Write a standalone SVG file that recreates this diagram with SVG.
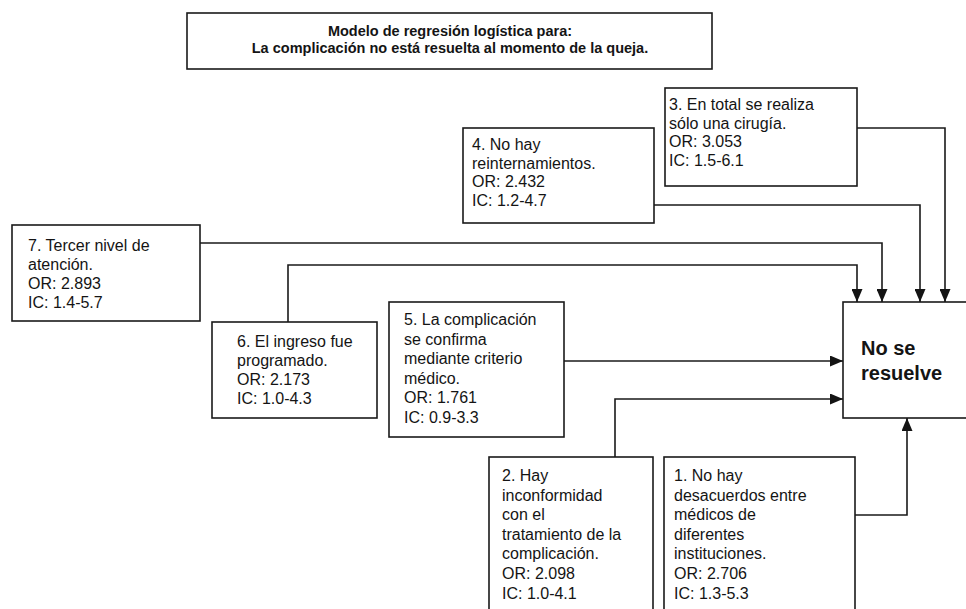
<svg xmlns="http://www.w3.org/2000/svg" width="966" height="609" viewBox="0 0 966 609">
  <style>
    .box { fill: #ffffff; stroke: #1a1a1a; stroke-width: 1.6; }
    .t { font-family: "Liberation Sans", Arial, sans-serif; font-size: 16px; fill: #141414; }
    .title { font-family: "Liberation Sans", Arial, sans-serif; font-size: 14.5px; font-weight: bold; fill: #141414; }
    .big { font-family: "Liberation Sans", Arial, sans-serif; font-size: 20px; font-weight: bold; fill: #141414; }
    .link { fill: none; stroke: #1a1a1a; stroke-width: 1.6; }
  </style>
  <defs>
    <marker id="arrow" markerUnits="userSpaceOnUse" markerWidth="13" markerHeight="11" refX="13" refY="5.5" orient="auto">
      <path d="M0,0 L13,5.5 L0,11 z" fill="#141414"/>
    </marker>
  </defs>
  <rect width="966" height="609" fill="#ffffff"/>

  <!-- heading -->
  <g id="title">
    <rect class="box" x="187" y="13" width="525" height="56"/>
    <text class="title" x="450" y="36" text-anchor="middle">Modelo de regresión logística para:</text>
    <text class="title" x="450" y="53" text-anchor="middle">La complicación no está resuelta al momento de la queja.</text>
  </g>

  <!-- connectors -->
  <g id="connectors">
    <polyline class="link" points="857,128 945,128 945,302" marker-end="url(#arrow)"/>
    <polyline class="link" points="654,205 920,205 920,302" marker-end="url(#arrow)"/>
    <polyline class="link" points="200,243 882,243 882,302" marker-end="url(#arrow)"/>
    <polyline class="link" points="288,322 288,265 857,265 857,302" marker-end="url(#arrow)"/>
    <polyline class="link" points="564,361 843,361" marker-end="url(#arrow)"/>
    <polyline class="link" points="615,457 615,399 843,399" marker-end="url(#arrow)"/>
    <polyline class="link" points="855,515 907,515 907,418" marker-end="url(#arrow)"/>
  </g>

  <!-- outcome -->
  <g id="outcome">
    <rect class="box" x="843" y="302" width="135" height="116"/>
    <text class="big" x="861" y="355">No se</text>
    <text class="big" x="861" y="380">resuelve</text>
  </g>

  <g id="factor3">
    <rect class="box" x="665" y="88" width="192" height="98"/>
    <text class="t" x="669" y="110">3. En total se realiza</text>
    <text class="t" x="669" y="128.5">sólo una cirugía.</text>
    <text class="t" x="669" y="147">OR: 3.053</text>
    <text class="t" x="669" y="165.5">IC: 1.5-6.1</text>
  </g>

  <g id="factor4">
    <rect class="box" x="463" y="128" width="191" height="95"/>
    <text class="t" x="472" y="150">4. No hay</text>
    <text class="t" x="472" y="168.5">reinternamientos.</text>
    <text class="t" x="472" y="187">OR: 2.432</text>
    <text class="t" x="472" y="205.5">IC: 1.2-4.7</text>
  </g>

  <g id="factor7">
    <rect class="box" x="12" y="225" width="188" height="96"/>
    <text class="t" x="28" y="251">7. Tercer nivel de</text>
    <text class="t" x="28" y="270">atención.</text>
    <text class="t" x="28" y="289">OR: 2.893</text>
    <text class="t" x="28" y="308">IC: 1.4-5.7</text>
  </g>

  <g id="factor6">
    <rect class="box" x="212" y="322" width="165" height="96"/>
    <text class="t" x="237" y="347">6. El ingreso fue</text>
    <text class="t" x="237" y="366">programado.</text>
    <text class="t" x="237" y="385">OR: 2.173</text>
    <text class="t" x="237" y="404">IC: 1.0-4.3</text>
  </g>

  <g id="factor5">
    <rect class="box" x="389" y="302" width="175" height="135"/>
    <text class="t" x="404" y="325">5. La complicación</text>
    <text class="t" x="404" y="344.5">se confirma</text>
    <text class="t" x="404" y="364">mediante criterio</text>
    <text class="t" x="404" y="383.5">médico.</text>
    <text class="t" x="404" y="403">OR: 1.761</text>
    <text class="t" x="404" y="422.5">IC: 0.9-3.3</text>
  </g>

  <g id="factor2">
    <rect class="box" x="489" y="457" width="164" height="170"/>
    <text class="t" x="502" y="481">2. Hay</text>
    <text class="t" x="502" y="500.6">inconformidad</text>
    <text class="t" x="502" y="520.2">con el</text>
    <text class="t" x="502" y="539.8">tratamiento de la</text>
    <text class="t" x="502" y="559.4">complicación.</text>
    <text class="t" x="502" y="579">OR: 2.098</text>
    <text class="t" x="502" y="598.6">IC: 1.0-4.1</text>
  </g>

  <g id="factor1">
    <rect class="box" x="664" y="457" width="191" height="170"/>
    <text class="t" x="674" y="481">1. No hay</text>
    <text class="t" x="674" y="500.6">desacuerdos entre</text>
    <text class="t" x="674" y="520.2">médicos de</text>
    <text class="t" x="674" y="539.8">diferentes</text>
    <text class="t" x="674" y="559.4">instituciones.</text>
    <text class="t" x="674" y="579">OR: 2.706</text>
    <text class="t" x="674" y="598.6">IC: 1.3-5.3</text>
  </g>
</svg>
